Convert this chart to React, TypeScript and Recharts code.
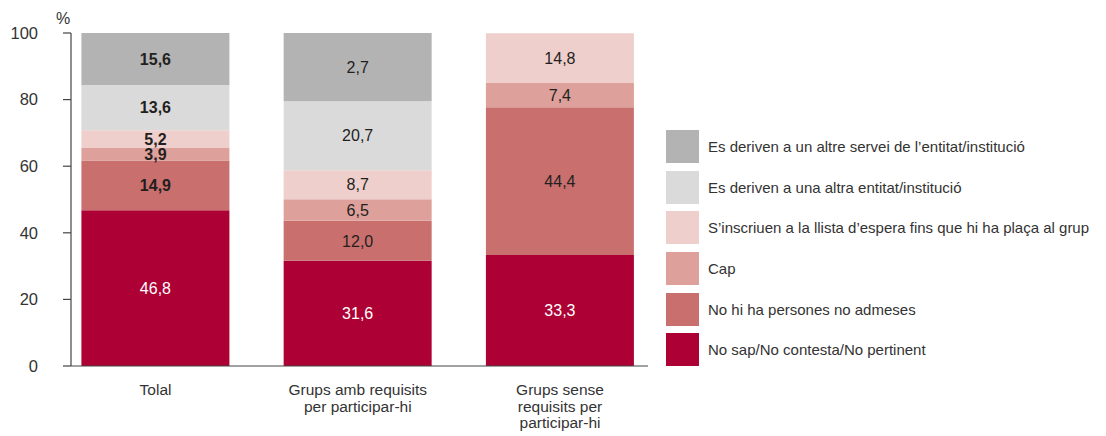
import React from 'react';
import { BarChart, Bar, XAxis, YAxis, LabelList } from 'recharts';

const categories = ['Tolal', 'Grups amb requisits per participar-hi', 'Grups sense requisits per participar-hi'];
const categoryLines = [['Tolal'], ['Grups amb requisits', 'per participar-hi'], ['Grups sense', 'requisits per', 'participar-hi']];
const positions = [0, 1, 2];

// bottom to top
const seriesNames = [
  'No sap/No contesta/No pertinent',
  'No hi ha persones no admeses',
  'Cap',
  "S’inscriuen a la llista d’espera fins que hi ha plaça al grup",
  'Es deriven a una altra entitat/institució',
  "Es deriven a un altre servei de l’entitat/institució",
];
const noSap = [46.8, 31.6, 33.3];
const noHiHa = [14.9, 12.0, 44.4];
const cap = [3.9, 6.5, 7.4];
const llista = [5.2, 8.7, 14.8];
const altraEntitat = [13.6, 20.7, 0];
const altreServei = [15.6, 20.5, 0];

// printed labels (the second grey segment is printed as 2,7 in the source)
const noSapLabels = ['46,8', '31,6', '33,3'];
const noHiHaLabels = ['14,9', '12,0', '44,4'];
const capLabels = ['3,9', '6,5', '7,4'];
const llistaLabels = ['5,2', '8,7', '14,8'];
const altraEntitatLabels = ['13,6', '20,7', ''];
const altreServeiLabels = ['15,6', '2,7', ''];

const yTicks = [0, 20, 40, 60, 80, 100];

const colors = ['#AD0034', '#C9706E', '#DDA09A', '#EFCFCB', '#DADADA', '#B3B3B3'];
const labelColors = ['#ffffff', '#231F20', '#231F20', '#231F20', '#231F20', '#231F20'];

const seriesValues = [noSap, noHiHa, cap, llista, altraEntitat, altreServei];
const seriesLabels = [noSapLabels, noHiHaLabels, capLabels, llistaLabels, altraEntitatLabels, altreServeiLabels];
const keys = ['s0', 's1', 's2', 's3', 's4', 's5'];

const data = categories.map((name, i) => {
  const row: any = { name, x: positions[i] };
  keys.forEach((k, s) => { row[k] = seriesValues[s][i]; });
  return row;
});

const FONT = '"Liberation Sans", Arial, sans-serif';

const makeLabel = (s: number) => (props: any) => {
  const { x, y, width, height, index } = props;
  const text = seriesLabels[s][index];
  if (!text) return null;
  return (
    <text
      x={x + width / 2}
      y={y + height / 2}
      dy="0.36em"
      textAnchor="middle"
      fill={labelColors[s]}
      fontSize={16}
      fontWeight={index === 0 && s > 0 ? 700 : 400}
      fontFamily={FONT}
    >
      {text}
    </text>
  );
};

const XTick = (props: any) => {
  const { x, y, payload } = props;
  const lines = categoryLines[payload.value] || [];
  return (
    <g>
      {lines.map((l, i) => (
        <text key={i} x={x} y={y + 21 + i * 16.5} textAnchor="middle" fill="#333" fontSize={15.5} fontFamily={FONT}>
          {l}
        </text>
      ))}
    </g>
  );
};

const PercentLabel = (props: any) => {
  const { viewBox } = props;
  return (
    <text x={viewBox.x + viewBox.width - 8} y={viewBox.y - 9} textAnchor="middle" fill="#333" fontSize={16} fontFamily={FONT}>
      %
    </text>
  );
};

export default function App() {
  return (
    <div style={{ position: 'relative', width: 1096, height: 428, fontFamily: FONT }}>
      <BarChart width={660} height={428} data={data} margin={{ top: 25, right: 20, bottom: 8, left: 0 }}>
        <XAxis
          type="number"
          dataKey="x"
          domain={[-0.418, 2.435]}
          ticks={positions}
          allowDataOverflow
          tickLine={false}
          axisLine={{ stroke: '#444', strokeWidth: 1.2 }}
          tick={<XTick />}
          height={62}
          interval={0}
        />
        <YAxis
          type="number"
          domain={[0, 100]}
          ticks={yTicks}
          width={63}
          tickSize={8}
          tickMargin={25}
          tickLine={{ stroke: '#444', strokeWidth: 1.2 }}
          axisLine={{ stroke: '#444', strokeWidth: 1.2 }}
          tick={{ fill: '#333', fontSize: 16.5, fontFamily: FONT }}
          label={<PercentLabel />}
        />
        {keys.map((k, s) => (
          <Bar key={k} dataKey={k} stackId="a" fill={colors[s]} barSize={148} isAnimationActive={false}>
            <LabelList dataKey={k} content={makeLabel(s)} />
          </Bar>
        ))}
      </BarChart>
      <div style={{ position: 'absolute', left: 658, top: 122, width: 438 }}>
        {seriesNames
          .map((n, s) => ({ n, s }))
          .reverse()
          .map(({ n, s }) => (
            <div key={n} style={{ display: 'flex', alignItems: 'center', height: 33, marginBottom: 7.7 }}>
              <div style={{ width: 33, height: 33, background: colors[s], flexShrink: 0 }} />
              <span style={{ marginLeft: 9, fontSize: 15, color: '#333', whiteSpace: 'nowrap' }}>{n}</span>
            </div>
          ))}
      </div>
    </div>
  );
}
